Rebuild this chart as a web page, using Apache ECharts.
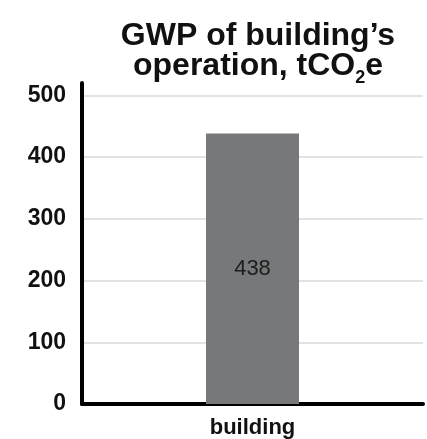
<!DOCTYPE html>
<html>
<head>
<meta charset="utf-8">
<script src="https://cdn.jsdelivr.net/npm/echarts@6/dist/echarts.min.js"></script>
<style>
  html, body { margin: 0; padding: 0; background: #fff; }
  #gwpChart { width: 427px; height: 439px; }
</style>
</head>
<body>
<div id="gwpChart"></div>
<script>
var categories = ['building'];
var gwpValues = [438];
var yTicks = [0, 100, 200, 300, 400, 500];

var option = {
  animation: false,
  backgroundColor: '#fff',
  title: {
    left: 253,
    textAlign: 'center',
    top: 16,
    text: 'GWP of building\u2019s\noperation, tCO{sub|2}e',
    textStyle: {
      fontFamily: 'Liberation Sans',
      fontSize: 32,
      fontWeight: 'bold',
      color: '#111',
      lineHeight: 30,
      rich: {
        sub: {
          fontFamily: 'Liberation Sans',
          fontSize: 18,
          fontWeight: 'bold',
          color: '#111',
          padding: [25, 0, 0, 0],
          lineHeight: 30
        }
      }
    }
  },
  grid: {
    left: 82,
    right: 4,
    top: 83,
    bottom: 34,
    containLabel: false
  },
  xAxis: {
    type: 'category',
    data: categories,
    axisLine: { lineStyle: { color: '#000', width: 4 } },
    axisTick: { show: false },
    axisLabel: {
      margin: 13,
      fontFamily: 'Liberation Sans',
      fontSize: 22,
      fontWeight: 'bold',
      color: '#111'
    }
  },
  yAxis: {
    type: 'value',
    min: 0,
    max: 520,
    interval: 100,
    axisLine: { show: true, lineStyle: { color: '#000', width: 4 } },
    axisTick: { show: false },
    axisLabel: {
      margin: 16,
      showMaxLabel: false,
      fontFamily: 'Liberation Sans',
      fontSize: 23,
      fontWeight: 'bold',
      color: '#111',
      formatter: function (v) { return yTicks.indexOf(v) >= 0 ? String(v) : ''; }
    },
    splitLine: {
      show: true,
      showMaxLine: false,
      lineStyle: { color: '#e2e2e2', width: 2 }
    }
  },
  series: [
    {
      name: 'GWP',
      type: 'bar',
      data: gwpValues,
      barWidth: 93,
      itemStyle: { color: '#76787a' },
      label: {
        show: true,
        position: 'inside',
        fontFamily: 'Liberation Sans',
        fontSize: 22,
        color: '#1c1c1c'
      }
    }
  ]
};

var gwpChart = echarts.init(document.getElementById('gwpChart'));
gwpChart.setOption(option);
</script>
</body>
</html>
